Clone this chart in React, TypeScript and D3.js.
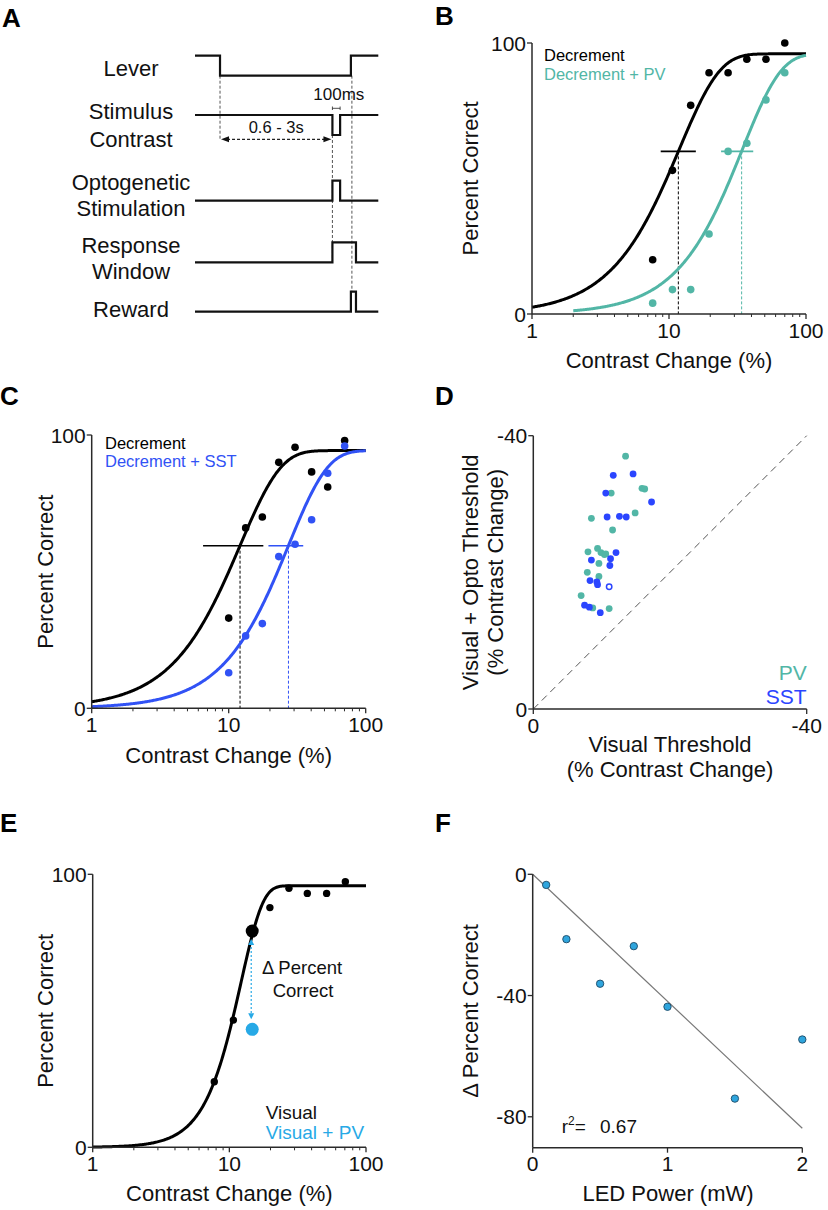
import React from 'react';
import * as d3 from 'd3';

const FONT = '"Liberation Sans", Arial, Helvetica, sans-serif';
const AXIS = '#2a2a2a';
const TEAL = '#52b6a6';
const SST_BLUE = '#3152f5';
const D_BLUE = '#2b45ff';
const LIGHT_BLUE = '#27a9e6';

// ---------- Panel A: trial timing (ms relative to lever press) ----------
const tStart = -325;
const tPress = 0;
const tStimOn = 1460;
const tStimOff = 1560;
const tRelease = 1700;
const tWindowEnd = 1766;
const tEnd = 2056;
const leverSteps: [number, number][] = [[tStart, 1], [tPress, 0], [tRelease, 1], [tEnd, 1]];
const stimSteps: [number, number][] = [[tStart, 0], [tStimOn, -1], [tStimOff, 0], [tEnd, 0]];
const optoSteps: [number, number][] = [[tStart, 0], [tStimOn, 1], [tStimOff, 0], [tEnd, 0]];
const responseSteps: [number, number][] = [[tStart, 0], [tStimOn, 1], [tWindowEnd, 0], [tEnd, 0]];
const rewardSteps: [number, number][] = [[tStart, 0], [tRelease, 1], [tWindowEnd, 0], [tEnd, 0]];

// ---------- Panel B ----------
const contrastB = [7.6, 10.6, 14.4, 19.6, 27, 37, 51, 70];
const bDecrement = [20, 53, 77, 89, 89, 94, 94, 100];
const bDecrementPV = [4, 9, 9, 29.5, 60, 63, 79, 89];
const bFitDec = { lambda: 11.86, k: 1.47, max: 96, from: 1 };
const bFitPV = { lambda: 34.3, k: 1.54, max: 96, from: 2 };
const bThrDec = { x: 11.7, lo: 8.7, hi: 15.7, y: 60 };
const bThrPV = { x: 33.9, lo: 24, hi: 41.2, y: 60 };

// ---------- Panel C ----------
const contrastC = [10, 13.3, 17.6, 23.2, 30.5, 40.3, 52.8, 70.2];
const cDecrement = [33, 66, 70, 90, 95.5, 86.5, 81, 98];
const cDecrementSST = [13, 26.5, 31, 55.5, 60, 69, 86, 96];
const cFitDec = { lambda: 12.12, k: 1.466, max: 94.3, from: 1 };
const cFitSST = { lambda: 27.35, k: 1.528, max: 94.3, from: 1 };
const cThrDec = { x: 12.1, lo: 6.5, hi: 17.9, y: 59.5 };
const cThrSST = { x: 27.3, lo: 19.5, hi: 35, y: 59.5 };

// ---------- Panel D ----------
const pvVisual = [-13.5, -11.4, -15.9, -16.3, -14.9, -8.5, -11.6, -9.4, -8.0, -9.9, -10.4, -10.6, -9.6, -7.9, -9.6, -7.0, -8.7, -11.1];
const pvOpto = [-37.0, -31.6, -32.3, -32.2, -28.7, -27.9, -26.2, -23.5, -23.0, -22.9, -22.6, -22.7, -21.3, -20.0, -19.4, -16.6, -14.8, -14.7];
const sstVisual = [-11.7, -14.6, -10.6, -17.3, -10.8, -12.6, -13.6, -12.1, -8.5, -11.3, -11.2, -8.3, -9.3, -9.4, -11.1, -7.5, -8.2, -9.8];
const sstOpto = [-34.2, -34.4, -31.6, -30.3, -28.1, -28.2, -28.1, -22.9, -21.8, -22.0, -21.0, -18.8, -18.6, -18.2, -17.9, -15.2, -14.9, -14.1];
const sstHollow = [14];

// ---------- Panel E ----------
const contrastE = [7.76, 10.7, 14.7, 19.8, 27.3, 37.2, 51.5, 70.6];
const eVisual = [24, 46.6, 79.2, 87.8, 94.9, 93, 93, 97.3];
const eFit = { lambda: 12.2, k: 2.74, max: 95.8, from: 1 };
const eHighlightIndex = 2;
const eVisualPV = 43.2;

// ---------- Panel F ----------
const ledPower = [0.1, 0.25, 0.5, 0.75, 1, 1.5, 2];
const deltaPercent = [-3.5, -21.4, -36.1, -23.7, -43.7, -74, -54.5];
const fFit = { intercept: 0, slope: -41.9, from: 0, to: 2 };
const fR2 = '0.67';

type Fit = { lambda: number; k: number; max: number; from: number };
const weibull = (x: number, f: Fit) => f.max * (1 - Math.exp(-Math.pow(x / f.lambda, f.k)));

function fitPath(x: d3.ScaleLogarithmic<number, number>, y: d3.ScaleLinear<number, number>, f: Fit) {
  const a = Math.log10(f.from);
  const pts: [number, number][] = d3.range(0, 301).map((i) => {
    const c = Math.pow(10, a + ((2 - a) * i) / 300);
    return [x(c), y(weibull(c, f))];
  });
  return d3.line()(pts) || '';
}

function PanelLetter({ x, y, t }: { x: number; y: number; t: string }) {
  return (
    <text x={x} y={y} fontFamily={FONT} fontWeight="bold" fontSize={26} fill="#000">
      {t}
    </text>
  );
}

function LogXAxis({ x, y }: { x: d3.ScaleLogarithmic<number, number>; y: number }) {
  const majors = [1, 10, 100];
  const minors: number[] = [];
  [1, 10].forEach((d) => d3.range(2, 10).forEach((m) => minors.push(m * d)));
  return (
    <g>
      <line x1={x(1)} x2={x(100)} y1={y} y2={y} stroke={AXIS} strokeWidth={1.5} />
      {minors.map((m) => (
        <line key={'m' + m} x1={x(m)} x2={x(m)} y1={y} y2={y + 3} stroke={AXIS} strokeWidth={1} />
      ))}
      {majors.map((m) => (
        <g key={'M' + m}>
          <line x1={x(m)} x2={x(m)} y1={y} y2={y + 5} stroke={AXIS} strokeWidth={1.3} />
          <text x={x(m)} y={y + 23.5} textAnchor="middle" fontFamily={FONT} fontSize={21} fill="#111">
            {m}
          </text>
        </g>
      ))}
    </g>
  );
}

function LinYAxis({ y, x, ticks, labels, bottom, top }: { y: d3.ScaleLinear<number, number>; x: number; ticks: number[]; labels: string[]; bottom: number; top: number }) {
  return (
    <g>
      <line x1={x} x2={x} y1={y(bottom)} y2={y(top)} stroke={AXIS} strokeWidth={1.5} />
      {ticks.map((t, i) => (
        <g key={t}>
          <line x1={x - 5} x2={x} y1={y(t)} y2={y(t)} stroke={AXIS} strokeWidth={1.3} />
          <text x={x - 6} y={y(t)} dy="0.36em" textAnchor="end" fontFamily={FONT} fontSize={21} fill="#111">
            {labels[i]}
          </text>
        </g>
      ))}
    </g>
  );
}

function YLabel({ x, y, lines }: { x: number; y: number; lines: string[] }) {
  return (
    <g>
      {lines.map((l, i) => (
        <text key={i} transform={`translate(${x + i * 25},${y}) rotate(-90)`} textAnchor="middle" fontFamily={FONT} fontSize={22} fill="#111">
          {l}
        </text>
      ))}
    </g>
  );
}

type Series = { values: number[]; color: string; fit: Fit; thr: { x: number; lo: number; hi: number; y: number } };

function PsychPanel({ x0, x1, yb, yt, contrast, series, legend, legendX, legendY, legendGap }: {
  x0: number; x1: number; yb: number; yt: number; contrast: number[]; series: Series[];
  legend: { text: string; color: string }[]; legendX: number; legendY: number; legendGap: number;
}) {
  const x = d3.scaleLog().domain([1, 100]).range([x0, x1]);
  const y = d3.scaleLinear().domain([0, 100]).range([yb, yt]);
  return (
    <g>
      {series.map((s, i) => (
        <g key={'thr' + i}>
          <line x1={x(s.thr.x)} x2={x(s.thr.x)} y1={y(s.thr.y)} y2={y(0)} stroke={s.color} strokeWidth={1} strokeDasharray="3,2" />
          <line x1={x(s.thr.lo)} x2={x(s.thr.hi)} y1={y(s.thr.y)} y2={y(s.thr.y)} stroke={s.color} strokeWidth={1.6} />
        </g>
      ))}
      {series.map((s, i) => (
        <path key={'fit' + i} d={fitPath(x, y, s.fit)} fill="none" stroke={s.color} strokeWidth={3} />
      ))}
      {series.map((s, i) => (
        <g key={'pts' + i}>
          {s.values.map((v, j) => (
            <circle key={j} cx={x(contrast[j])} cy={y(v)} r={3.8} fill={s.color} />
          ))}
        </g>
      ))}
      <LogXAxis x={x} y={yb} />
      <LinYAxis y={y} x={x0} ticks={[0, 100]} labels={['0', '100']} bottom={0} top={100} />
      {legend.map((l, i) => (
        <text key={i} x={legendX} y={legendY + i * legendGap} fontFamily={FONT} fontSize={16.5} fill={l.color}>
          {l.text}
        </text>
      ))}
    </g>
  );
}

function PanelA() {
  const t = d3.scaleLinear().domain([tStart, tEnd]).range([195, 378.3]);
  const amp = 20;
  const stepPath = (steps: [number, number][], base: number) => {
    const pts: [number, number][] = [];
    steps.forEach(([tt, lv], i) => {
      if (i > 0) pts.push([t(tt), base - steps[i - 1][1] * amp]);
      pts.push([t(tt), base - lv * amp]);
    });
    return d3.line()(pts) || '';
  };
  const rows = [
    { steps: leverSteps, base: 75.7, labels: ['Lever'], ly: [75.7] },
    { steps: stimSteps, base: 115, labels: ['Stimulus', 'Contrast'], ly: [119.3, 146.7] },
    { steps: optoSteps, base: 200.7, labels: ['Optogenetic', 'Stimulation'], ly: [190, 216] },
    { steps: responseSteps, base: 262.3, labels: ['Response', 'Window'], ly: [253.3, 279.3] },
    { steps: rewardSteps, base: 311.7, labels: ['Reward'], ly: [316.7] },
  ];
  const arrowY = 139.3;
  return (
    <g>
      <line x1={t(tPress)} x2={t(tPress)} y1={75.7} y2={arrowY} stroke="#555" strokeWidth={1} strokeDasharray="3,2" />
      <line x1={t(tStimOn)} x2={t(tStimOn)} y1={135} y2={262.3} stroke="#555" strokeWidth={1} strokeDasharray="3,2" />
      <line x1={t(tRelease) + 1} x2={t(tRelease) + 1} y1={75.7} y2={291} stroke="#555" strokeWidth={1} strokeDasharray="3,2" />
      {rows.map((r, i) => (
        <g key={i}>
          <path d={stepPath(r.steps, r.base)} fill="none" stroke="#111" strokeWidth={2.2} />
          {r.labels.map((l, j) => (
            <text key={j} x={131} y={r.ly[j]} textAnchor="middle" fontFamily={FONT} fontSize={22} fill="#111">
              {l}
            </text>
          ))}
        </g>
      ))}
      <line x1={t(tPress) + 7} x2={t(tStimOn) - 7} y1={arrowY} y2={arrowY} stroke="#222" strokeWidth={1.2} strokeDasharray="3,2" />
      <path d={`M${t(tPress) + 1},${arrowY} l8,-3 l0,6 z`} fill="#111" />
      <path d={`M${t(tStimOn) - 1},${arrowY} l-8,-3 l0,6 z`} fill="#111" />
      <text x={(t(tPress) + t(tStimOn)) / 2} y={133.3} textAnchor="middle" fontFamily={FONT} fontSize={16.5} fill="#111">
        0.6 - 3s
      </text>
      <line x1={t(tStimOn)} x2={t(tStimOff)} y1={108.3} y2={108.3} stroke="#222" strokeWidth={0.8} />
      <line x1={t(tStimOn)} x2={t(tStimOn)} y1={106.5} y2={110} stroke="#222" strokeWidth={0.8} />
      <line x1={t(tStimOff)} x2={t(tStimOff)} y1={106.5} y2={110} stroke="#222" strokeWidth={0.8} />
      <text x={313.3} y={100} fontFamily={FONT} fontSize={17} fill="#111">
        100ms
      </text>
    </g>
  );
}

function PanelD() {
  const x0 = 533.3, x1 = 806.7, yb = 709, yt = 435.7;
  const x = d3.scaleLinear().domain([0, -40]).range([x0, x1]);
  const y = d3.scaleLinear().domain([0, -40]).range([yb, yt]);
  return (
    <g>
      <line x1={x(0)} y1={y(0)} x2={x(-40)} y2={y(-40)} stroke="#555" strokeWidth={1} strokeDasharray="7,5" />
      {pvVisual.map((v, i) => (
        <circle key={'pv' + i} cx={x(v)} cy={y(pvOpto[i])} r={3.4} fill={TEAL} />
      ))}
      {sstVisual.map((v, i) =>
        sstHollow.includes(i) ? (
          <circle key={'s' + i} cx={x(v)} cy={y(sstOpto[i])} r={2.7} fill="#fff" stroke={D_BLUE} strokeWidth={1.5} />
        ) : (
          <circle key={'s' + i} cx={x(v)} cy={y(sstOpto[i])} r={3.4} fill={D_BLUE} />
        )
      )}
      <line x1={x0} x2={x1} y1={yb} y2={yb} stroke={AXIS} strokeWidth={1.5} />
      <line x1={x0} x2={x0} y1={yb} y2={yt} stroke={AXIS} strokeWidth={1.5} />
      {[0, -40].map((t) => (
        <g key={'xt' + t}>
          <line x1={x(t)} x2={x(t)} y1={yb} y2={yb + 5} stroke={AXIS} strokeWidth={1.3} />
          <text x={x(t)} y={yb + 23.5} textAnchor="middle" fontFamily={FONT} fontSize={21} fill="#111">{t}</text>
          <line x1={x0 - 5} x2={x0} y1={y(t)} y2={y(t)} stroke={AXIS} strokeWidth={1.3} />
          <text x={x0 - 6} y={y(t)} dy="0.36em" textAnchor="end" fontFamily={FONT} fontSize={21} fill="#111">{t}</text>
        </g>
      ))}
      <text x={x1} y={680} textAnchor="end" fontFamily={FONT} fontSize={21} fill={TEAL}>PV</text>
      <text x={x1} y={704} textAnchor="end" fontFamily={FONT} fontSize={21} fill={D_BLUE}>SST</text>
      <YLabel x={478} y={(yb + yt) / 2} lines={['Visual + Opto Threshold', '(% Contrast Change)']} />
      <text x={(x0 + x1) / 2} y={752} textAnchor="middle" fontFamily={FONT} fontSize={22} fill="#111">Visual Threshold</text>
      <text x={(x0 + x1) / 2} y={777} textAnchor="middle" fontFamily={FONT} fontSize={22} fill="#111">(% Contrast Change)</text>
    </g>
  );
}

function PanelE() {
  const x0 = 92.7, x1 = 366, yb = 1147.3, yt = 874.3;
  const x = d3.scaleLog().domain([1, 100]).range([x0, x1]);
  const y = d3.scaleLinear().domain([0, 100]).range([yb, yt]);
  const hx = x(contrastE[eHighlightIndex]);
  const yTop = y(eVisual[eHighlightIndex]) + 8;
  const yBot = y(eVisualPV) - 10;
  return (
    <g>
      <path d={fitPath(x, y, eFit)} fill="none" stroke="#000" strokeWidth={3} />
      {eVisual.map((v, i) => (
        <circle key={i} cx={x(contrastE[i])} cy={y(v)} r={i === eHighlightIndex ? 6.5 : 3.7} fill="#000" />
      ))}
      <line x1={hx - 1} x2={hx - 1} y1={yTop + 4} y2={yBot - 4} stroke={LIGHT_BLUE} strokeWidth={1.2} strokeDasharray="2,2" />
      <path d={`M${hx - 1},${yTop} l-3,6 l6,0 z`} fill={LIGHT_BLUE} />
      <path d={`M${hx - 1},${yBot} l-3,-6 l6,0 z`} fill={LIGHT_BLUE} />
      <circle cx={hx} cy={y(eVisualPV)} r={6.5} fill={LIGHT_BLUE} />
      <text x={302} y={974} textAnchor="middle" fontFamily={FONT} fontSize={18.5} fill="#111">Δ Percent</text>
      <text x={303} y={996.7} textAnchor="middle" fontFamily={FONT} fontSize={18.5} fill="#111">Correct</text>
      <text x={265.7} y={1119} fontFamily={FONT} fontSize={19} fill="#111">Visual</text>
      <text x={265.7} y={1139.3} fontFamily={FONT} fontSize={19} fill={LIGHT_BLUE}>Visual + PV</text>
      <LogXAxis x={x} y={yb} />
      <LinYAxis y={y} x={x0} ticks={[0, 100]} labels={['0', '100']} bottom={0} top={100} />
      <YLabel x={53} y={(yb + yt) / 2} lines={['Percent Correct']} />
      <text x={(x0 + x1) / 2} y={yb + 54} textAnchor="middle" fontFamily={FONT} fontSize={22} fill="#111">Contrast Change (%)</text>
    </g>
  );
}

function PanelF() {
  const x0 = 532.7, x1 = 802.3, yb = 1147.7, yt = 874.3;
  const x = d3.scaleLinear().domain([0, 2]).range([x0, x1]);
  const y = d3.scaleLinear().domain([-90.2, 0]).range([yb, yt]);
  return (
    <g>
      <line x1={x(fFit.from)} x2={x(fFit.to)} y1={y(fFit.intercept + fFit.slope * fFit.from)} y2={y(fFit.intercept + fFit.slope * fFit.to)} stroke="#777" strokeWidth={1.2} />
      {ledPower.map((p, i) => (
        <circle key={i} cx={x(p)} cy={y(deltaPercent[i])} r={3.7} fill="#2fa5dd" stroke="#1d4a66" strokeWidth={0.9} />
      ))}
      <line x1={x0} x2={x1} y1={yb} y2={yb} stroke={AXIS} strokeWidth={1.5} />
      <line x1={x0} x2={x0} y1={yb} y2={y(0)} stroke={AXIS} strokeWidth={1.5} />
      {[0, 1, 2].map((t) => (
        <g key={'xt' + t}>
          <line x1={x(t)} x2={x(t)} y1={yb} y2={yb + 5} stroke={AXIS} strokeWidth={1.3} />
          <text x={x(t)} y={yb + 23.5} textAnchor="middle" fontFamily={FONT} fontSize={21} fill="#111">{t}</text>
        </g>
      ))}
      {[0, -40, -80].map((t) => (
        <g key={'yt' + t}>
          <line x1={x0 - 5} x2={x0} y1={y(t)} y2={y(t)} stroke={AXIS} strokeWidth={1.3} />
          <text x={x0 - 6} y={y(t)} dy="0.36em" textAnchor="end" fontFamily={FONT} fontSize={21} fill="#111">{t}</text>
        </g>
      ))}
      <text x={561.7} y={1132.7} fontFamily={FONT} fontSize={19} fill="#111">
        r<tspan fontSize={12} dy={-8}>2</tspan><tspan dy={8}>=  </tspan>
      </text>
      <text x={600} y={1132.7} fontFamily={FONT} fontSize={19} fill="#111">{fR2}</text>
      <YLabel x={478} y={(yb + yt) / 2} lines={['Δ Percent Correct']} />
      <text x={668} y={1200.8} textAnchor="middle" fontFamily={FONT} fontSize={22} fill="#111">LED Power (mW)</text>
    </g>
  );
}

export default function App() {
  return (
    <svg width={828} height={1210} style={{ position: 'absolute', left: 0, top: 0, background: '#fff' }}>
      <rect width={828} height={1210} fill="#fff" />
      <PanelLetter x={2} y={26.7} t="A" />
      <PanelA />

      <PanelLetter x={435} y={25} t="B" />
      <PsychPanel
        x0={532} x1={806} yb={314} yt={43} contrast={contrastB}
        series={[
          { values: bDecrement, color: '#000', fit: bFitDec, thr: bThrDec },
          { values: bDecrementPV, color: TEAL, fit: bFitPV, thr: bThrPV },
        ]}
        legend={[{ text: 'Decrement', color: '#000' }, { text: 'Decrement + PV', color: TEAL }]}
        legendX={544} legendY={61} legendGap={19}
      />
      <YLabel x={478} y={178.5} lines={['Percent Correct']} />
      <text x={669} y={368} textAnchor="middle" fontFamily={FONT} fontSize={22} fill="#111">Contrast Change (%)</text>

      <PanelLetter x={0} y={405} t="C" />
      <PsychPanel
        x0={91.7} x1={365.7} yb={708.3} yt={435} contrast={contrastC}
        series={[
          { values: cDecrement, color: '#000', fit: cFitDec, thr: cThrDec },
          { values: cDecrementSST, color: SST_BLUE, fit: cFitSST, thr: cThrSST },
        ]}
        legend={[{ text: 'Decrement', color: '#000' }, { text: 'Decrement + SST', color: SST_BLUE }]}
        legendX={105} legendY={449.3} legendGap={17.4}
      />
      <YLabel x={53} y={571.7} lines={['Percent Correct']} />
      <text x={228.7} y={763} textAnchor="middle" fontFamily={FONT} fontSize={22} fill="#111">Contrast Change (%)</text>

      <PanelLetter x={435} y={405} t="D" />
      <PanelD />

      <PanelLetter x={0} y={831.7} t="E" />
      <PanelE />

      <PanelLetter x={435} y={831.7} t="F" />
      <PanelF />
    </svg>
  );
}
